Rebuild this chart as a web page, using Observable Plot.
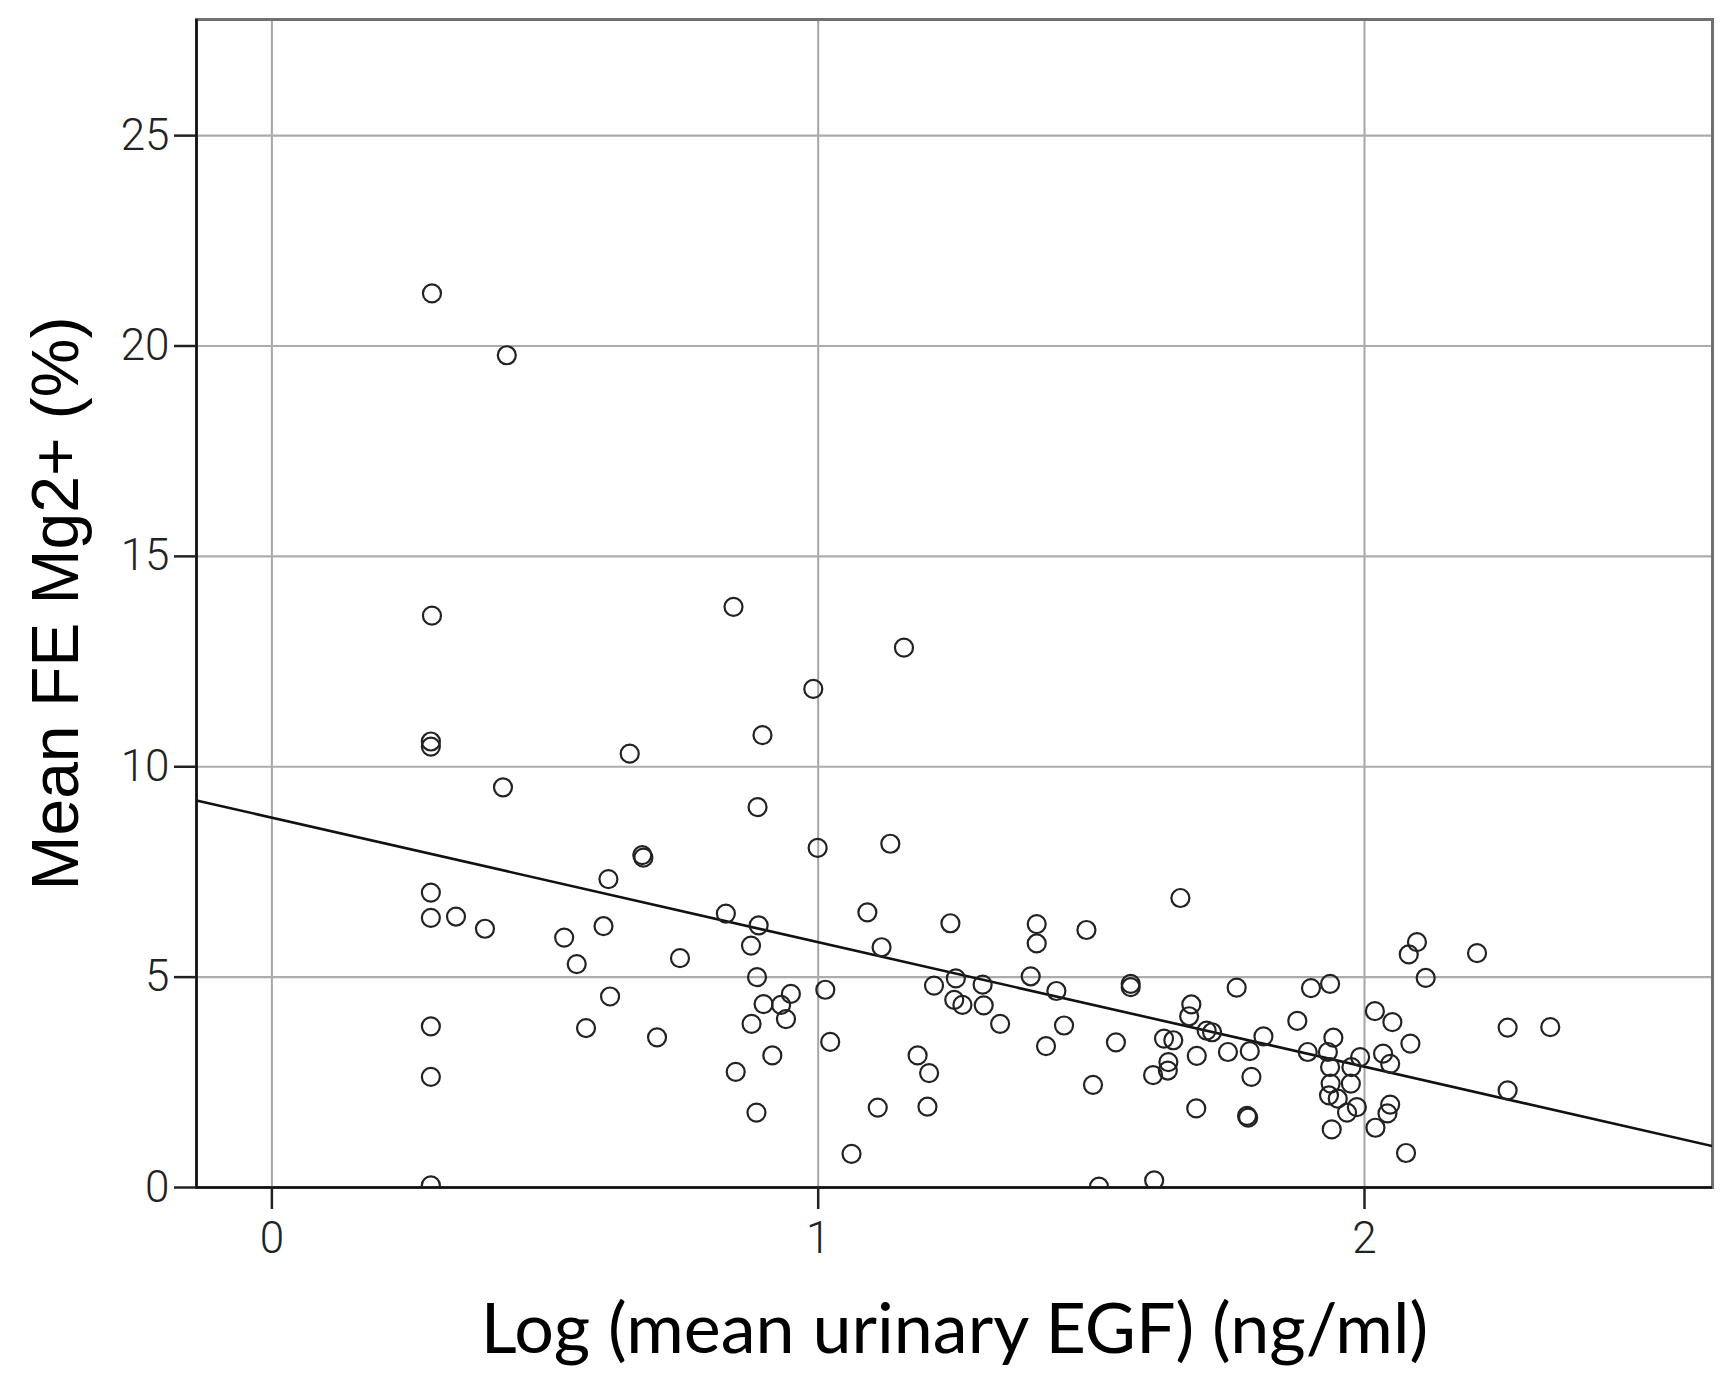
<!DOCTYPE html>
<html>
<head>
<meta charset="utf-8">
<script src="https://cdn.jsdelivr.net/npm/d3@7"></script>
<script src="https://cdn.jsdelivr.net/npm/@observablehq/plot@0.6"></script>
<style>
  html, body { margin: 0; padding: 0; background: #fff; }
  #chart svg { display: block; }
</style>
</head>
<body>
<div id="chart"></div>
<script>
// Log (mean urinary EGF) (ng/ml)
const logEGF = [
  0.293, 0.430, 0.293,
  0.291, 0.291, 0.655, 0.423, 0.678, 0.680, 0.616, 0.291, 0.291, 0.337, 0.390, 0.535, 0.607, 0.558, 0.747, 0.619, 0.575, 0.705, 0.291, 0.291, 0.291,
  0.845, 1.157, 0.991, 0.898, 0.889, 0.999, 1.132, 0.831, 0.891, 0.877, 1.090, 1.116, 1.242, 1.400, 1.400, 1.491, 0.888, 1.013, 0.950, 0.900, 0.932, 0.941, 0.878, 1.022, 0.916, 0.849, 0.887, 1.109, 1.200, 1.182, 1.203, 1.061, 1.212, 1.252, 1.249, 1.264, 1.301, 1.303, 1.333, 1.389, 1.436, 1.450, 1.417, 1.545, 1.503, 1.572, 1.572, 1.514,
  1.663, 2.096, 2.081, 2.206, 2.112, 1.766, 1.902, 1.937, 1.683, 1.679, 1.711, 1.721, 1.633, 1.650, 1.641, 1.640, 1.613, 1.693, 1.750, 1.790, 1.815, 1.877, 1.896, 1.793, 1.692, 1.785, 1.787, 1.615, 1.943, 1.933, 1.937, 1.938, 1.935, 1.951, 1.975, 1.976, 1.992, 1.986, 1.968, 1.940, 2.019, 2.051, 2.084, 2.034, 2.047, 2.047, 2.042, 2.020, 2.076, 2.262, 2.340, 2.262
];
// Mean FE Mg2+ (%)
const feMg = [
  21.25, 19.78, 13.59,
  10.60, 10.48, 10.31, 9.51, 7.90, 7.84, 7.33, 7.01, 6.41, 6.44, 6.15, 5.94, 6.21, 5.31, 5.45, 4.54, 3.79, 3.57, 3.83, 2.63, 0.05,
  13.80, 12.83, 11.85, 10.75, 9.04, 8.07, 8.17, 6.51, 6.23, 5.75, 6.54, 5.71, 6.28, 6.26, 5.80, 6.12, 5.00, 4.70, 4.60, 4.36, 4.34, 4.00, 3.89, 3.46, 3.14, 2.75, 1.78, 1.90, 1.92, 3.14, 2.72, 0.80, 4.80, 4.97, 4.46, 4.34, 4.82, 4.33, 3.89, 5.02, 4.67, 3.85, 3.36, 3.45, 2.44, 4.84, 4.76, 0.02,
  6.88, 5.83, 5.54, 5.57, 4.98, 4.75, 4.74, 4.84, 4.35, 4.07, 3.73, 3.69, 3.54, 3.50, 2.98, 2.78, 2.67, 3.13, 3.22, 3.24, 3.59, 3.96, 3.22, 2.63, 1.88, 1.70, 1.66, 0.17, 3.56, 3.22, 2.86, 2.47, 2.19, 2.11, 2.47, 2.86, 3.10, 1.91, 1.78, 1.38, 4.19, 3.93, 3.42, 3.18, 2.94, 1.97, 1.76, 1.42, 0.82, 3.80, 3.81, 2.31
];
// Fitted line
const fitIntercept = 8.79;
const fitSlope = -2.96;

const xDomain = [-0.138, 2.637];
const yDomain = [0, 27.76];
const xTicks = [0, 1, 2];
const yTicks = [0, 5, 10, 15, 20, 25];

const points = logEGF.map((x, i) => ({x, y: feMg[i]}));
const fitLine = xDomain.map(x => ({x, y: fitIntercept + fitSlope * x}));

const tickFont = "Roboto, 'Liberation Sans', sans-serif";

const chart = Plot.plot({
  width: 1730,
  height: 1389,
  marginLeft: 196,
  marginRight: 18,
  marginTop: 19,
  marginBottom: 202,
  style: {background: "#fff", color: "#222"},
  x: {domain: xDomain},
  y: {domain: yDomain},
  marks: [
    Plot.gridX(xTicks, {stroke: "#a6a6a6", strokeOpacity: 1, strokeWidth: 2}),
    Plot.gridY(yTicks.filter(d => d > 0), {stroke: "#acacac", strokeOpacity: 1, strokeWidth: 2.2}),
    Plot.frame({stroke: "#707070", strokeWidth: 3}),
    Plot.ruleX([xDomain[0]], {stroke: "#111", strokeWidth: 2.5}),
    Plot.ruleY([0], {stroke: "#111", strokeWidth: 2.5}),
    Plot.axisX(xTicks, {tickSize: 22, tickPadding: 12, strokeWidth: 2.5, fontSize: 44, fontFamily: tickFont, fontWeight: 300, label: null, tickFormat: d => String(d)}),
    Plot.axisY(yTicks, {tickSize: 22, tickPadding: 5, strokeWidth: 2.5, fontSize: 44, fontFamily: tickFont, fontWeight: 300, label: null, tickFormat: d => String(d)}),
    Plot.line(fitLine, {x: "x", y: "y", stroke: "#111", strokeWidth: 2.6, clip: true}),
    Plot.dot(points, {x: "x", y: "y", r: 9, stroke: "#222", strokeWidth: 2.2, fill: "none", clip: true}),
    Plot.text(["Log (mean urinary EGF) (ng/ml)"], {frameAnchor: "bottom", textAnchor: "middle", dy: 165, lineAnchor: "bottom", fontSize: 70, fontFamily: "Lato, 'Open Sans', sans-serif", fill: "#000"}),
    Plot.text(["Mean FE Mg2+ (%)"], {frameAnchor: "left", textAnchor: "middle", dx: -119, rotate: -90, lineAnchor: "bottom", fontSize: 66, fontFamily: "'Liberation Sans', Arial, sans-serif", fill: "#000"})
  ]
});
document.getElementById("chart").appendChild(chart);
</script>
</body>
</html>
